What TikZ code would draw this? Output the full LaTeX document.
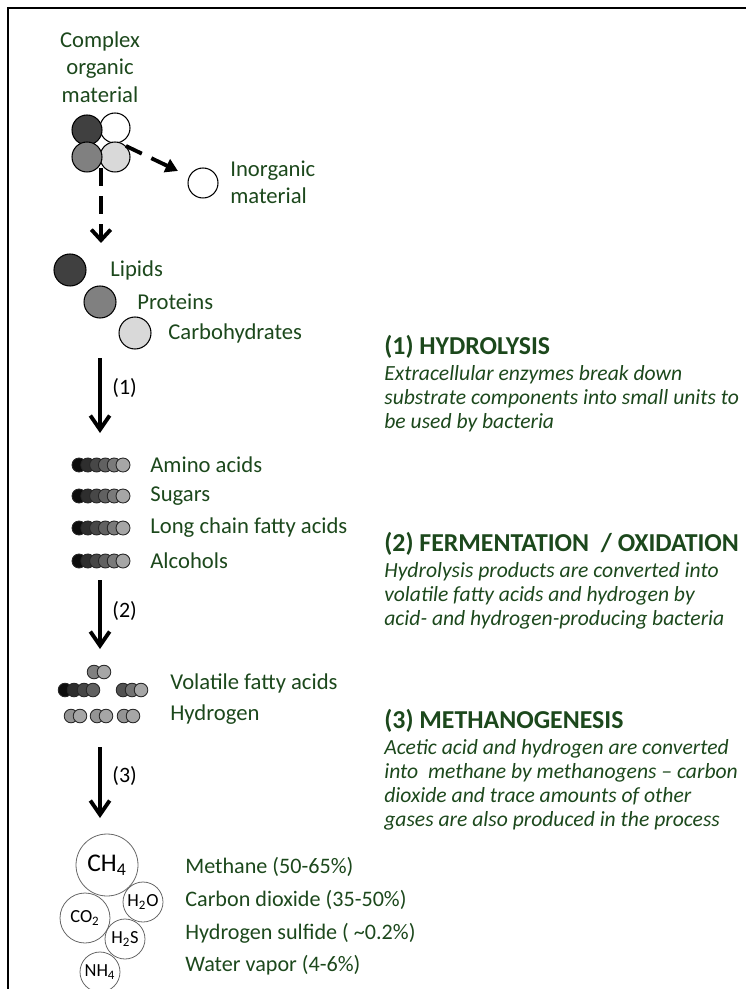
\documentclass[tikz,border=0pt]{standalone}
\usepackage{fontspec}
\setmainfont{Carlito}
\usetikzlibrary{arrows.meta,positioning}
\definecolor{leafgreen}{RGB}{28,72,28}
\definecolor{dkball}{gray}{0.25}
\definecolor{mdball}{gray}{0.5}
\definecolor{ltball}{gray}{0.85}

\begin{document}
\begin{tikzpicture}[x=0.02cm,y=-0.02cm,
    lbl/.style={text=leafgreen,anchor=west,inner sep=0pt,font=\fontsize{12.9}{15.6}\selectfont},
    note/.style={text=leafgreen,anchor=north west,inner sep=0pt,align=left,font=\fontsize{12.3}{13.66}\selectfont\itshape},
    stage/.style={anchor=west,inner sep=0pt,font=\fontsize{12.5}{15}\selectfont},
    ball/.style={circle,draw=black,line width=0.6pt,inner sep=0pt,minimum size=0.6cm},
    gas/.style={circle,draw=black!60,line width=0.45pt,inner sep=0pt,font=\fontsize{10.5}{12}\selectfont},
    bead/.style={draw=black!85,line width=0.5pt},
    flow/.style={line width=2.2pt,-{Straight Barb[length=8pt,width=11pt]}},
    dflow/.style={line width=2.2pt,dash pattern=on 10pt off 6pt}]
    \useasboundingbox (0,0) rectangle (746,989);

    % Frame on the left and top
    \draw[line width=1.3pt] (8,989) -- (8,8) -- (746,8);

    % Complex organic material
    \node[lbl,anchor=center,align=center] (cplx) at (100,67) {Complex\\organic\\material};
    \node[ball,fill=white] (cw) at (115,128) {};
    \node[ball,fill=ltball] (cl) at (115,157) {};
    \node[ball,fill=dkball] (cd) at (87,130) {};
    \node[ball,fill=mdball] (cm) at (87,157) {};

    % Inorganic part
    \node[ball,fill=white] (inorg) at (203,183) {};
    \node[lbl,align=left] (inorgtxt) at (230,182) {Inorganic\\material};
    \draw[dflow,-{Triangle[length=7pt,width=8pt]},shorten >=7pt] (cl.north east) -- (inorg);

    % Split into components
    \coordinate (split) at (101,168);
    \coordinate (splitend) at (101,243);
    \draw[dflow,-{Straight Barb[length=6pt,width=11pt]}] (split) -- (splitend);

    \node[ball,fill=dkball,minimum size=0.64cm] (lip) at (70,270) {};
    \node[ball,fill=mdball,minimum size=0.64cm] (pro) at (100,302) {};
    \node[ball,fill=ltball,minimum size=0.64cm] (carb) at (135,333) {};
    \node[lbl] (liptxt) at (110,270) {Lipids};
    \node[lbl] (protxt) at (137,302) {Proteins};
    \node[lbl] (carbtxt) at (168,333) {Carbohydrates};

    % Step (1)
    \coordinate (s1) at (100,358);
    \coordinate (e1) at (100,433);
    \draw[flow] (s1) -- (e1);
    \node[stage] (n1) at (112,388) {(1)};

    % Hydrolysis products
    \foreach \yy/\txt/\nm in {465/Amino acids/amino,496/Sugars/sugar,528/Long chain fatty acids/lcfa,561/Alcohols/alc} {
        \foreach \k/\c in {0/black!95,1/black!82,2/black!72,3/black!62,4/black!52,5/black!35}
            \filldraw[bead,fill=\c] (79+\k*8.8,\yy) circle (7);
        \node[lbl] (\nm) at (150,\yy) {\txt};
    }

    % Step (2)
    \coordinate (s2) at (100,580);
    \coordinate (e2) at (100,649);
    \draw[flow] (s2) -- (e2);
    \node[stage] (n2) at (112,611) {(2)};

    % Volatile fatty acids and hydrogen
    \foreach \xx/\yy/\c in {94/672/black!50,104/672/black!35,
        65/690/black!95,74/690/black!82,84/690/black!72,93/690/black!62,
        123/690/black!68,132/690/black!55,141/690/black!35,
        71/716/black!42,80/716/black!35,97/716/black!42,106/716/black!35,124/716/black!42,133/716/black!35}
        \filldraw[bead,fill=\c] (\xx,\yy) circle (6.8);
    \node[lbl] (vfa) at (170,683) {Volatile fatty acids};
    \node[lbl] (hyd) at (170,715) {Hydrogen};

    % Step (3)
    \coordinate (s3) at (100,747);
    \coordinate (e3) at (100,818);
    \draw[flow] (s3) -- (e3);
    \node[stage] (n3) at (112,776) {(3)};

    % Biogas
    \node[gas,minimum size=1.24cm,font=\fontsize{14.5}{16}\selectfont] (ch4) at (107,865) {CH\textsubscript{4}};
    \node[gas,minimum size=1.0cm] (co2) at (85,918) {CO\textsubscript{2}};
    \node[gas,minimum size=0.8cm] (h2o) at (143,902) {H\textsubscript{2}O};
    \node[gas,minimum size=0.8cm] (h2s) at (125,939) {H\textsubscript{2}S};
    \node[gas,minimum size=0.8cm] (nh4) at (100,972) {NH\textsubscript{4}};
    \node[lbl,font=\fontsize{12.6}{15}\selectfont] (meth) at (185,867) {Methane (50-65\%)};
    \node[lbl,font=\fontsize{12.6}{15}\selectfont] (cdio) at (185,900) {Carbon dioxide (35-50\%)};
    \node[lbl,font=\fontsize{12.6}{15}\selectfont] (hsul) at (185,933) {Hydrogen sulfide ( \textasciitilde0.2\%)};
    \node[lbl,font=\fontsize{12.6}{15}\selectfont] (wvap) at (185,965) {Water vapor (4-6\%)};

    % Stage descriptions
    \node[note] (hydro) at (384,335) {{\upshape\bfseries\fontsize{14.7}{13.66}\selectfont (1) HYDROLYSIS}\\[0.9pt]
        Extracellular enzymes break down\\substrate components into small units to\\be used by bacteria};
    \node[note] (ferm) at (384,532) {{\upshape\bfseries\fontsize{14.7}{13.66}\selectfont (2) FERMENTATION\ \ / OXIDATION}\\[0.9pt]
        Hydrolysis products are converted into\\volatile fatty acids and hydrogen by\\acid- and hydrogen-producing bacteria};
    \node[note] (methano) at (384,709) {{\upshape\bfseries\fontsize{14.7}{13.66}\selectfont (3) METHANOGENESIS}\\[0.9pt]
        Acetic acid and hydrogen are converted\\into\ \ methane by methanogens -- carbon\\dioxide and trace amounts of other\\gases are also produced in the process};
\end{tikzpicture}
\end{document}
